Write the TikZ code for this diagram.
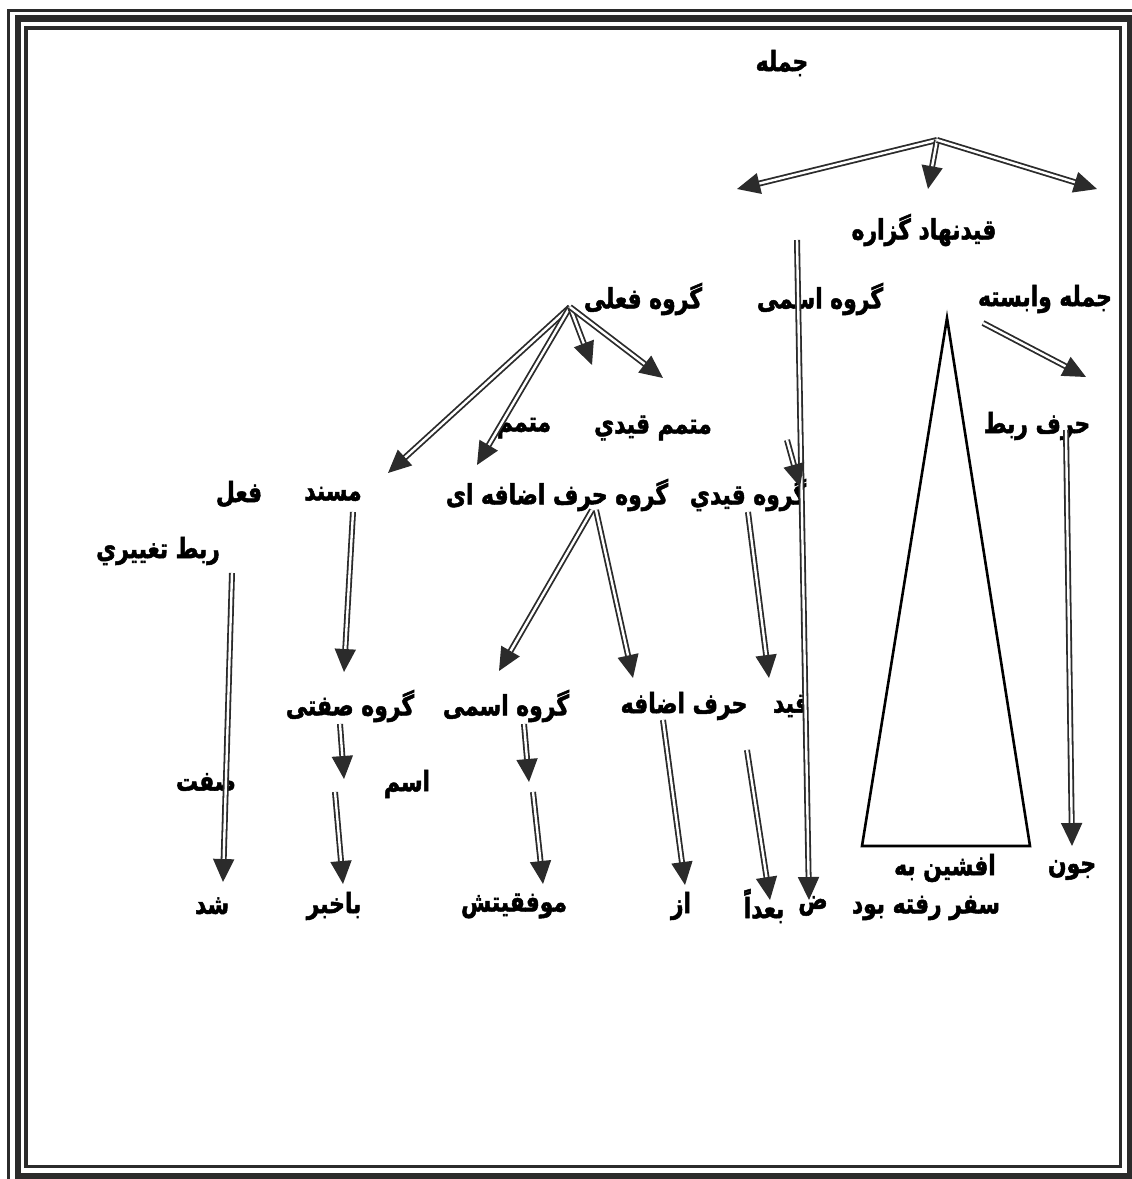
\documentclass[tikz,border=0pt]{standalone}
\usepackage{fontspec}
\usetikzlibrary{arrows.meta}
\TeXXeTstate=1
\newfontfamily\arabicfont[Script=Arabic,FakeStretch=0.78,FakeBold=1.8]{DejaVu Sans}
\newcommand\ftx[1]{{\arabicfont\bfseries\beginR #1\endR}}
\definecolor{ink}{HTML}{2B2B2B}
\begin{document}
\begin{tikzpicture}[x=1pt,y=-1pt,
  lbl/.style={inner sep=0pt, font=\fontsize{28}{32}\selectfont},
  arr/.style={draw=ink, line width=1.8pt, double=white, double distance=2.4pt,
     -{Triangle[length=23pt,width=21pt,fill=ink]}},
  tri/.style={draw=black, line width=2.6pt, line join=miter}]
\useasboundingbox (0,0) rectangle (1132,1179);
\begin{scope}
\clip (0,0) rectangle (1132,1179);
% frame
\draw[draw=ink, line width=2.5pt] (8.5,10.5) rectangle (1145,1195);
\draw[draw=ink, line width=6.5pt] (18,18.5) rectangle (1130.5,1176);
\draw[draw=ink, line width=3.5pt] (26,28) rectangle (1120.5,1166.5);
\end{scope}

% labels
\node[lbl] (jomle) at (782,63) {\ftx{جمله}};
\node[lbl] (nahad) at (924,230) {\ftx{قيدنهاد گزاره}};
\node[lbl] (vabaste) at (1045,299) {\ftx{جمله وابسته}};
\node[lbl] (esmi) at (820,299) {\ftx{گروه اسمی}};
\node[lbl] (feli) at (643,299) {\ftx{گروه فعلی}};
\node[lbl] (rabt) at (1037,426) {\ftx{حرف ربط}};
\node[lbl] (motamamq) at (653,428) {\ftx{متمم قيدي}};
\node[lbl] (motamam) at (524,428) {\ftx{متمم}};
\node[lbl] (ghq) at (748,495) {\ftx{گروه قيدي}};
\node[lbl] (ghe) at (557,495) {\ftx{گروه حرف اضافه ای}};
\node[lbl] (mosnad) at (333,494) {\ftx{مسند}};
\node[lbl] (fel) at (239,494) {\ftx{فعل}};
\node[lbl] (taghiri) at (158,551) {\ftx{ربط تغييري}};
\node[lbl] (qeyd) at (791,706) {\ftx{قيد}};
\node[lbl] (harf) at (684,706) {\ftx{حرف اضافه}};
\node[lbl] (esm2) at (506,706) {\ftx{گروه اسمی}};
\node[lbl] (sefati) at (350,706) {\ftx{گروه صفتی}};
\node[lbl] (sefat) at (206,782) {\ftx{صفت}};
\node[lbl] (esm) at (407,784) {\ftx{اسم}};
\node[lbl] (shod) at (212,906) {\ftx{شد}};
\node[lbl] (bakhabar) at (334,906) {\ftx{باخبر}};
\node[lbl] (movafaq) at (514,906) {\ftx{موفقيتش}};
\node[lbl] (az) at (681,906) {\ftx{از}};
\node[lbl] (badan) at (764,906) {\ftx{بعداً}};
\node[lbl] (zad) at (813,906) {\ftx{ض}};
\node[lbl] (safar) at (926,908) {\ftx{سفر رفته بود}};
\node[lbl] (afshin) at (945,868) {\ftx{افشين به}};
\node[lbl] (chon) at (1072,870) {\ftx{جون}};

% connector ends
\coordinate (r0) at (937,140);
\coordinate (rL) at (737,189);
\coordinate (rM) at (928,189);
\coordinate (rR) at (1097,189);
\coordinate (f0) at (570,307);
\coordinate (f1) at (388,473);
\coordinate (f2) at (477,465);
\coordinate (f3) at (592,365);
\coordinate (f4) at (663,378);
\coordinate (v0) at (983,323);
\coordinate (v1) at (1086,377);
\coordinate (ta) at (947,318);
\coordinate (tb) at (862,846);
\coordinate (tc) at (1030,846);
\coordinate (z0) at (797,240);
\coordinate (z1) at (809,900);
\coordinate (q0) at (787,440);
\coordinate (q1) at (800,487);
\coordinate (g0) at (748,512);
\coordinate (g1) at (769,678);
\coordinate (h0) at (592,510);
\coordinate (h1) at (499,671);
\coordinate (h2) at (596,510);
\coordinate (h3) at (633,678);
\coordinate (m0) at (353,512);
\coordinate (m1) at (344,672);
\coordinate (s0) at (340,724);
\coordinate (s1) at (344,779);
\coordinate (e0) at (524,724);
\coordinate (e1) at (529,782);
\coordinate (a0) at (663,720);
\coordinate (a1) at (685,885);
\coordinate (b0) at (747,750);
\coordinate (b1) at (770,900);
\coordinate (k0) at (335,792);
\coordinate (k1) at (343,884);
\coordinate (o0) at (533,792);
\coordinate (o1) at (543,884);
\coordinate (t0) at (232,573);
\coordinate (t1) at (223,882);
\coordinate (c0) at (1066,430);
\coordinate (c1) at (1072,846);

% connectors
\draw[arr] (r0) -- (rL);
\draw[arr] (r0) -- (rM);
\draw[arr] (r0) -- (rR);
\draw[arr] (f0) -- (f1);
\draw[arr] (f0) -- (f2);
\draw[arr] (f0) -- (f3);
\draw[arr] (f0) -- (f4);
\draw[arr] (v0) -- (v1);
\draw[tri] (ta) -- (tb) -- (tc) -- cycle;
\draw[arr] (z0) -- (z1);
\draw[arr] (q0) -- (q1);
\draw[arr] (g0) -- (g1);
\draw[arr] (h0) -- (h1);
\draw[arr] (h2) -- (h3);
\draw[arr] (m0) -- (m1);
\draw[arr] (s0) -- (s1);
\draw[arr] (e0) -- (e1);
\draw[arr] (a0) -- (a1);
\draw[arr] (b0) -- (b1);
\draw[arr] (k0) -- (k1);
\draw[arr] (o0) -- (o1);
\draw[arr] (t0) -- (t1);
\draw[arr] (c0) -- (c1);
\end{tikzpicture}
\end{document}
